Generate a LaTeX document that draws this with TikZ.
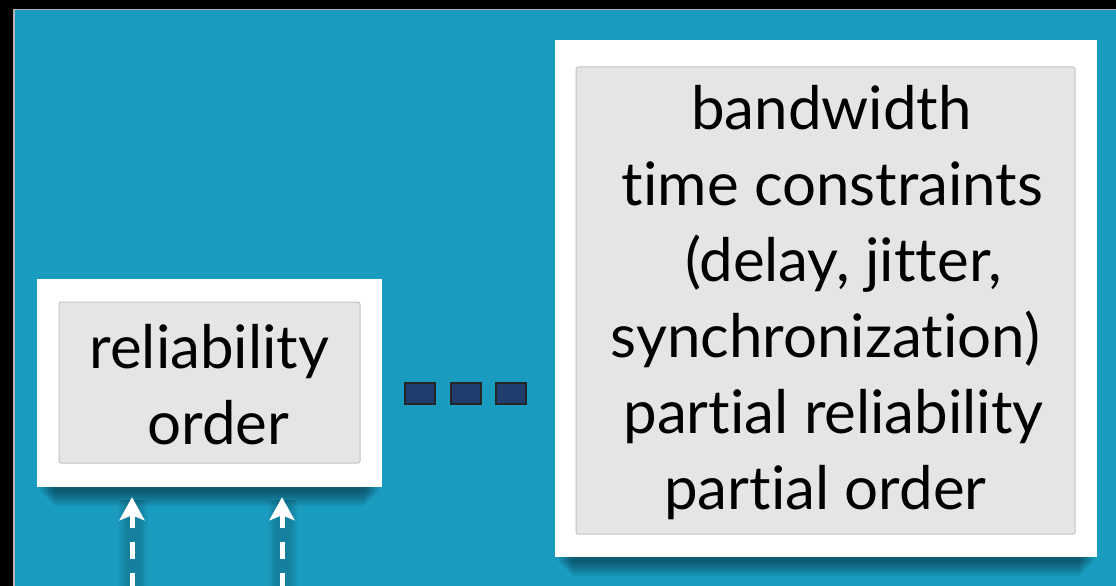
\documentclass[tikz,border=0pt]{standalone}
\usepackage{fontspec}
\setmainfont{Lato}[Ligatures=NoCommon]
\usetikzlibrary{arrows.meta}
\definecolor{bgteal}{RGB}{26,156,192}
\definecolor{grayfill}{RGB}{229,229,229}
\definecolor{grayedge}{RGB}{196,196,196}
\definecolor{sqblue}{RGB}{31,62,110}
\tikzset{
  whitebox/.style={draw=none, fill=white, inner sep=0pt},
  graybox/.style={draw=grayedge, line width=1pt, fill=grayfill, rounded corners=2pt, inner sep=0pt, align=center, text=black, font=\fontsize{60}{76}\selectfont},
  sqbox/.style={draw=black!85, line width=2pt, fill=sqblue, minimum width=30pt, minimum height=21pt, inner sep=0pt},
  uparrow/.style={draw=white, line width=5pt, dash pattern=on 17pt off 14pt, dash phase=4pt, -{Stealth[length=23pt, width=25pt, inset=5pt]}, shorten >=10pt},
  boxshadow/.style={fill=black, opacity=0.06}
}
\begin{document}
\begin{tikzpicture}[x=1pt, y=-1pt]
\useasboundingbox (0,0) rectangle (1116,586);
\fill[black] (0,0) rectangle (1116,586);
\fill[bgteal] (13,9) rectangle (1116,586);
\draw[gray!60, line width=1.5pt] (13.75,586) -- (13.75,9.75) -- (1116,9.75);
% shadows
\foreach \d in {0,2,...,14} {
  \fill[boxshadow] (40+\d,470) rectangle (379-\d,492+\d);
  \fill[boxshadow] (558+\d,540) rectangle (1094-\d,562+\d);
}
\foreach \d in {0,2,...,8} {
  \fill[black, opacity=0.035] (126-\d,500) rectangle (140+\d,586);
  \fill[black, opacity=0.035] (276-\d,500) rectangle (290+\d,586);
}
% left box
\node[whitebox, minimum width=345pt, minimum height=208pt] (lw) at (209.5,383) {};
\node[graybox, minimum width=301pt, minimum height=161pt] (lg) at (209.5,382.5) {\rule{0pt}{48pt}reliability\\\hspace{18pt}order};
% squares
\node[sqbox] (s1) at (419.5,393) {};
\node[sqbox] (s2) at (465.5,393) {};
\node[sqbox] (s3) at (511,393) {};
% right box
\node[whitebox, minimum width=542pt, minimum height=517pt] (rw) at (826,298.5) {};
\node[graybox, minimum width=499pt, minimum height=467pt] (rg) at (825.5,300.5)
  {\rule{0pt}{49pt}\hspace{12pt}bandwidth\\\hspace{14pt}time constraints\\\hspace{36pt}(delay, jitter,\\synchronization)\\\hspace{16pt}partial reliability\\partial order};
% arrows
\coordinate (a1) at (132,586);
\coordinate (a2) at (282,586);
\draw[uparrow] (a1) -- (a1 |- lw.south);
\draw[uparrow] (a2) -- (a2 |- lw.south);
\end{tikzpicture}
\end{document}
